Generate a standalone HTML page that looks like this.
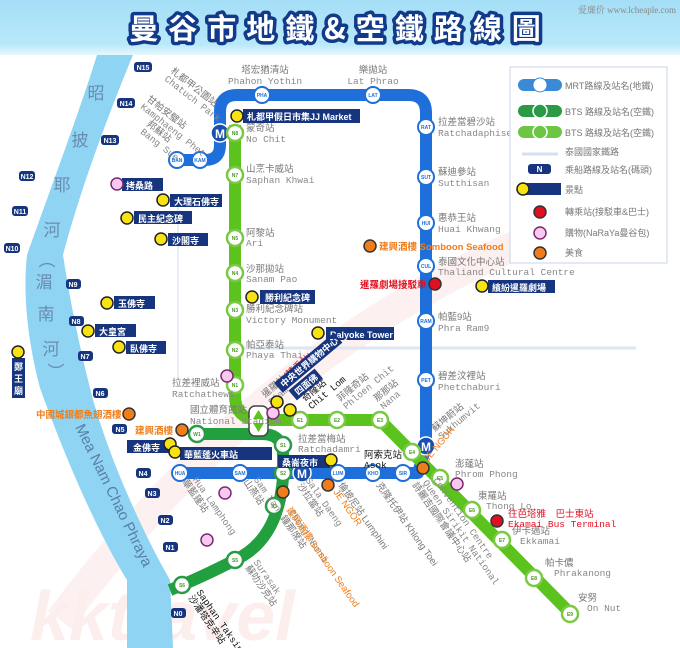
<!DOCTYPE html>
<html><head><meta charset="utf-8"><style>
html,body{margin:0;padding:0;background:#fff}
svg{display:block}
.zh{font-family:"Liberation Sans","Noto Sans CJK TC",sans-serif;font-size:9.5px;fill:#777}
.en{font-family:"Liberation Mono",monospace;font-size:9.5px;fill:#888}
.bx{fill:#17357f}
.bt{font-family:"Liberation Sans","Noto Sans CJK TC",sans-serif;font-size:9px;fill:#fff;font-weight:bold}
.pt{font-family:"Liberation Sans",sans-serif;font-size:7px;fill:#fff;font-weight:bold;text-anchor:middle}
.gs{fill:#fff;stroke:#7ac943;stroke-width:2.5}
.ds{fill:#fff;stroke:#2a9a45;stroke-width:2.5}
.ms{fill:#fff;stroke:#1e6fd9;stroke-width:2}
.sc{font-family:"Liberation Sans",sans-serif;font-size:5px;text-anchor:middle;font-weight:bold}
.y{fill:#f7e312;stroke:#222;stroke-width:1.5}
.o{fill:#f07d1a;stroke:#333;stroke-width:1.5}
.p{fill:#f8c8ee;stroke:#7a2a70;stroke-width:1.5}
.r{fill:#e01020;stroke:#333;stroke-width:1.5}
.lg{font-family:"Liberation Sans","Noto Sans CJK TC",sans-serif;font-size:9px;fill:#777}
</style></head><body>
<svg width="680" height="648" viewBox="0 0 680 648" xmlns="http://www.w3.org/2000/svg">
<defs><linearGradient id="tb" x1="0" y1="0" x2="0" y2="1"><stop offset="0" stop-color="#a4def6"/><stop offset="0.8" stop-color="#b8e8fa"/><stop offset="1" stop-color="#e6f7fd"/></linearGradient></defs>
<rect x="0" y="0" width="680" height="648" fill="#fff"/>
<rect x="0" y="0" width="680" height="55" fill="url(#tb)"/>
<path d="M60 620 Q300 300 640 200" stroke="#fdf0f0" stroke-width="30" fill="none"/>
<text x="30" y="640" font-family="Liberation Sans,sans-serif" font-size="70" font-style="italic" font-weight="bold" fill="#fdeeee">kktravel</text>
<text x="676" y="13" text-anchor="end" font-family="Liberation Serif,'Noto Serif CJK SC',serif" font-size="9" fill="#888">爱廉价 www.lcheaple.com</text>
<text x="340" y="39" text-anchor="middle" font-family="'Noto Sans CJK TC',sans-serif" font-weight="bold" font-size="29" fill="#fff" stroke="#123a8a" stroke-width="7" paint-order="stroke" stroke-linejoin="round" letter-spacing="10">曼谷市地鐵&amp;空鐵路線圖</text>
<path d="M240 348 H636" stroke="#dde6f2" stroke-width="3"/>
<path d="M178 200 V380" stroke="#e8eef6" stroke-width="2"/>
<path d="M97 55 C80 110 50 190 27 255 C22 300 30 350 40 388 C55 430 90 520 127 580 L127 648 L173 648 L170 580 C130 510 100 430 90 388 C78 340 70 300 63 255 C80 190 110 110 133 55 Z" fill="#8fd4f2"/>
<g font-family="'Noto Sans CJK TC',sans-serif" font-size="17" fill="#6a8cb0" text-anchor="middle">
<text x="96" y="99">昭</text><text x="80" y="146">披</text><text x="62" y="191">耶</text><text x="52" y="236">河</text>
<text x="47" y="266">︵</text><text x="44" y="288">湄</text><text x="46" y="320">南</text><text x="51" y="355">河</text><text x="56" y="378">︶</text>
</g>
<text transform="translate(75,427) rotate(64)" font-family="Liberation Sans,sans-serif" font-size="15" fill="#5a7ea8">Mea Nam Chao Phraya</text>
<g>
<rect x="134" y="62" width="18" height="10" rx="3" class="bx"/><text x="143" y="70" class="pt">N15</text>
<rect x="117" y="98" width="18" height="10" rx="3" class="bx"/><text x="126" y="106" class="pt">N14</text>
<rect x="101" y="135" width="18" height="10" rx="3" class="bx"/><text x="110" y="143" class="pt">N13</text>
<rect x="19" y="171" width="16" height="10" rx="3" class="bx"/><text x="27" y="179" class="pt">N12</text>
<rect x="12" y="206" width="16" height="10" rx="3" class="bx"/><text x="20" y="214" class="pt">N11</text>
<rect x="4" y="243" width="16" height="10" rx="3" class="bx"/><text x="12" y="251" class="pt">N10</text>
<rect x="66" y="279" width="15" height="10" rx="3" class="bx"/><text x="73" y="287" class="pt">N9</text>
<rect x="69" y="316" width="15" height="10" rx="3" class="bx"/><text x="76" y="324" class="pt">N8</text>
<rect x="78" y="351" width="15" height="10" rx="3" class="bx"/><text x="85" y="359" class="pt">N7</text>
<rect x="93" y="388" width="15" height="10" rx="3" class="bx"/><text x="100" y="396" class="pt">N6</text>
<rect x="112" y="424" width="15" height="10" rx="3" class="bx"/><text x="120" y="432" class="pt">N5</text>
<rect x="136" y="468" width="15" height="10" rx="3" class="bx"/><text x="143" y="476" class="pt">N4</text>
<rect x="145" y="488" width="15" height="10" rx="3" class="bx"/><text x="152" y="496" class="pt">N3</text>
<rect x="158" y="515" width="15" height="10" rx="3" class="bx"/><text x="165" y="523" class="pt">N2</text>
<rect x="163" y="542" width="15" height="10" rx="3" class="bx"/><text x="170" y="550" class="pt">N1</text>
<rect x="171" y="608" width="15" height="10" rx="3" class="bx"/><text x="178" y="616" class="pt">N0</text>
</g>
<path d="M177 160 H205 Q220 160 220 145 V112 Q220 95 237 95 H408 Q426 95 426 113 V446 L418 473 H177" stroke="#1e6fd9" stroke-width="12" fill="none" stroke-linejoin="round"/>
<path d="M235 125 V395 Q235 420 260 420 H380 L575 618" stroke="#5cc21e" stroke-width="12" fill="none" stroke-linejoin="round"/>
<path d="M190 434 H262 Q283 434 283 455 V478 Q278 540 235 560 Q200 578 170 590" stroke="#22a040" stroke-width="12" fill="none"/>
<rect x="249" y="406" width="19" height="30" rx="6" fill="#fff" stroke="#444" stroke-width="1.5"/>
<path d="M253 419 L258.5 410 L264 419 Z M253 423 L258.5 432 L264 423 Z" fill="#5cc21e"/>
<g>
<circle cx="177" cy="160" r="8" class="ms"/><text x="177" y="162" class="sc" fill="#1e6fd9">BAN</text>
<circle cx="200" cy="160" r="8" class="ms"/><text x="200" y="162" class="sc" fill="#1e6fd9">KAM</text>
<circle cx="262" cy="95" r="8" class="ms"/><text x="262" y="97" class="sc" fill="#1e6fd9">PHA</text>
<circle cx="373" cy="95" r="8" class="ms"/><text x="373" y="97" class="sc" fill="#1e6fd9">LAT</text>
<circle cx="426" cy="127" r="8" class="ms"/><text x="426" y="129" class="sc" fill="#1e6fd9">RAT</text>
<circle cx="426" cy="177" r="8" class="ms"/><text x="426" y="179" class="sc" fill="#1e6fd9">SUT</text>
<circle cx="426" cy="223" r="8" class="ms"/><text x="426" y="225" class="sc" fill="#1e6fd9">HUI</text>
<circle cx="426" cy="266" r="8" class="ms"/><text x="426" y="268" class="sc" fill="#1e6fd9">CUL</text>
<circle cx="426" cy="321" r="8" class="ms"/><text x="426" y="323" class="sc" fill="#1e6fd9">RAM</text>
<circle cx="426" cy="380" r="8" class="ms"/><text x="426" y="382" class="sc" fill="#1e6fd9">PET</text>
<circle cx="180" cy="473" r="8" class="ms"/><text x="180" y="475" class="sc" fill="#1e6fd9">HUA</text>
<circle cx="240" cy="473" r="8" class="ms"/><text x="240" y="475" class="sc" fill="#1e6fd9">SAM</text>
<circle cx="338" cy="473" r="8" class="ms"/><text x="338" y="475" class="sc" fill="#1e6fd9">LUM</text>
<circle cx="373" cy="473" r="8" class="ms"/><text x="373" y="475" class="sc" fill="#1e6fd9">KHO</text>
<circle cx="403" cy="473" r="8" class="ms"/><text x="403" y="475" class="sc" fill="#1e6fd9">SIR</text>
</g>
<g font-family="Liberation Sans,sans-serif" font-weight="bold" font-size="12" fill="#fff" text-anchor="middle">
<circle cx="220" cy="133" r="9" fill="#1a4fb0" stroke="#fff" stroke-width="1.5"/><text x="220" y="138">M</text>
<circle cx="302" cy="473" r="9" fill="#1a4fb0" stroke="#fff" stroke-width="1.5"/><text x="302" y="478">M</text>
<circle cx="426" cy="446" r="9" fill="#1a4fb0" stroke="#fff" stroke-width="1.5"/><text x="426" y="451">M</text>
</g>
<g>
<circle cx="235" cy="133" r="8" class="gs"/><circle cx="235" cy="175" r="8" class="gs"/><circle cx="235" cy="238" r="8" class="gs"/><circle cx="235" cy="273" r="8" class="gs"/><circle cx="235" cy="310" r="8" class="gs"/><circle cx="235" cy="350" r="8" class="gs"/><circle cx="235" cy="385" r="8" class="gs"/>
<circle cx="300" cy="420" r="8" class="gs"/><circle cx="337" cy="420" r="8" class="gs"/><circle cx="380" cy="420" r="8" class="gs"/><circle cx="412" cy="452" r="8" class="gs"/><circle cx="440" cy="478" r="8" class="gs"/><circle cx="472" cy="510" r="8" class="gs"/><circle cx="502" cy="540" r="8" class="gs"/><circle cx="534" cy="578" r="8" class="gs"/><circle cx="570" cy="614" r="8" class="gs"/>
<circle cx="197" cy="434" r="8" class="ds"/><circle cx="283" cy="445" r="8" class="ds"/><circle cx="283" cy="473" r="8" class="ds"/><circle cx="274" cy="506" r="8" class="ds"/><circle cx="235" cy="560" r="8" class="ds"/><circle cx="182" cy="585" r="8" class="ds"/>
</g>
<g class="sc" fill="#4a9a2a">
<text x="235" y="135">N8</text><text x="235" y="177">N7</text><text x="235" y="240">N5</text><text x="235" y="275">N4</text><text x="235" y="312">N3</text><text x="235" y="352">N2</text><text x="235" y="387">N1</text>
<text x="300" y="422">E1</text><text x="337" y="422">E2</text><text x="380" y="422">E3</text><text x="412" y="454">E4</text><text x="440" y="480">E5</text><text x="472" y="512">E6</text><text x="502" y="542">E7</text><text x="534" y="580">E8</text><text x="570" y="616">E9</text>
<text x="197" y="436">W1</text><text x="283" y="447">S1</text><text x="283" y="475">S2</text><text x="274" y="508">S3</text><text x="235" y="562">S5</text><text x="182" y="587">S6</text>
</g>
<text x="265" y="73" text-anchor="middle" class="zh">塔宏猶清站</text><text x="265" y="84" text-anchor="middle" class="en">Phahon Yothin</text>
<text x="373" y="73" text-anchor="middle" class="zh">樂拋站</text><text x="373" y="84" text-anchor="middle" class="en">Lat Phrao</text>
<g transform="translate(170,72) rotate(38)"><text class="zh">札都甲公園站</text><text y="10" class="en">Chatuch Park</text></g>
<g transform="translate(146,100) rotate(38)"><text class="zh">甘帕安璧站</text><text y="10" class="en">Kamphaeng Phet</text></g>
<g transform="translate(146,125) rotate(38)"><text class="zh">邦蘇站</text><text y="10" class="en">Bang Sue</text></g>
<text x="246" y="131" class="zh">蒙奇站</text><text x="246" y="142" class="en">No Chit</text>
<text x="246" y="172" class="zh">山烹卡威站</text><text x="246" y="183" class="en">Saphan Khwai</text>
<text x="246" y="236" class="zh">阿黎站</text><text x="246" y="246" class="en">Ari</text>
<text x="246" y="272" class="zh">沙那拋站</text><text x="246" y="282" class="en">Sanam Pao</text>
<text x="246" y="312" class="zh">勝利紀念碑站</text><text x="246" y="323" class="en">Victory Monument</text>
<text x="246" y="348" class="zh">帕亞泰站</text><text x="246" y="358" class="en">Phaya Thai</text>
<text x="172" y="386" class="zh">拉差裡威站</text><text x="172" y="397" class="en">Ratchathewi</text>
<text x="438" y="125" class="zh">拉差當碧沙站</text><text x="438" y="136" class="en">Ratchadaphisek</text>
<text x="438" y="175" class="zh">蘇迪參站</text><text x="438" y="186" class="en">Sutthisan</text>
<text x="438" y="221" class="zh">惠恭王站</text><text x="438" y="232" class="en">Huai Khwang</text>
<text x="438" y="265" class="zh">泰國文化中心站</text><text x="438" y="275" class="en">Thaliand Cultural Centre</text>
<text x="438" y="320" class="zh">帕藍9站</text><text x="438" y="331" class="en">Phra Ram9</text>
<text x="438" y="379" class="zh">碧差汶裡站</text><text x="438" y="390" class="en">Phetchaburi</text>
<text x="190" y="413" class="zh">國立體育館站</text><text x="190" y="424" class="en">National Stadium</text>
<text x="298" y="442" class="zh">拉差當梅站</text><text x="298" y="452" class="en">Ratchadamri</text>
<text x="364" y="458" class="zh" style="fill:#111">阿索克站</text><text x="364" y="468" class="en" style="fill:#111">Asok</text>
<text x="455" y="467" class="zh">澎蓬站</text><text x="455" y="477" class="en">Phrom Phong</text>
<text x="478" y="499" class="zh">東羅站</text><text x="486" y="509" class="en">Thong Lo</text>
<text x="512" y="534" class="zh">伊卡邁站</text><text x="520" y="544" class="en">Ekkamai</text>
<text x="545" y="566" class="zh">帕卡儂</text><text x="554" y="576" class="en">Phrakanong</text>
<text x="578" y="601" class="zh">安努</text><text x="587" y="611" class="en">On Nut</text>
<text x="508" y="517" class="zh" style="fill:#e01020">往芭塔雅　巴士東站</text><text x="508" y="527" class="en" style="fill:#e01020">Ekamai Bus Terminal</text>
<g transform="translate(265,398) rotate(-40)"><text class="zh">暹羅站<tspan style="fill:#e01020">(轉乘站)</tspan></text><text y="10" class="en">Siam</text></g>
<g transform="translate(305,402) rotate(-40)"><text class="zh" style="fill:#111">奇隆站</text><text y="10" class="en" style="fill:#111">Chit Lom</text></g>
<g transform="translate(340,402) rotate(-40)"><text class="zh">菲隆奇站</text><text y="10" class="en">Phloen Chit</text></g>
<g transform="translate(377,402) rotate(-40)"><text class="zh">那那站</text><text y="10" class="en">Nana</text></g>
<g transform="translate(435,432) rotate(-40)"><text class="zh">蘇坤蔚站</text><text y="10" class="en">Sukhumvit</text></g>
<g transform="translate(182,482) rotate(55)"><text class="zh">華藍蓬站</text><text y="-10" x="4" class="en">Hua Lamphong</text></g>
<g transform="translate(243,482) rotate(55)"><text class="zh">山燕站</text><text y="-10" x="4" class="en">Sam Yan</text></g>
<g transform="translate(297,486) rotate(55)"><text class="zh">沙拉當站</text><text y="-10" class="en">Sala Daeng</text></g>
<g transform="translate(338,485) rotate(55)"><text class="zh">倫披尼站 Lumphini</text></g>
<g transform="translate(376,485) rotate(55)"><text class="zh">克隆托伊站 Khlong Toei</text></g>
<g transform="translate(412,485) rotate(55)"><text class="zh">詩麗吉國際會議中心站</text><text y="-10" x="4" class="en">Queen Sirikit National</text><text y="-20" x="8" class="en">Convention Centre</text></g>
<g transform="translate(280,518) rotate(55)"><text class="zh">鐘那席站</text><text y="-10" class="en">Chong Nonsi</text></g>
<g transform="translate(245,568) rotate(55)"><text class="zh">蘇叻沙克站</text><text y="-10" class="en">Surasak</text></g>
<g transform="translate(188,598) rotate(55)"><text class="zh" style="fill:#111">沙潘塔克辛站</text><text y="-10" class="en" style="fill:#111">Saphan Taksin</text></g>
<g transform="translate(333,492) rotate(55)"><text class="zh" style="fill:#f07d1a">JE NGOR</text></g>
<g transform="translate(286,510) rotate(55)"><text class="zh" style="fill:#f07d1a">建興酒樓 Somboon Seafood</text></g>
<g transform="translate(428,462) rotate(-50)"><text class="zh" style="fill:#f07d1a">JE NGOR</text></g>
<rect x="243" y="109" width="117" height="14" class="bx"/><text x="247" y="120" class="bt">札都甲假日市集JJ Market</text><circle cx="237" cy="116" r="6" class="y"/>
<rect x="122" y="178" width="41" height="13" class="bx"/><text x="126" y="189" class="bt">拷桑路</text><circle cx="117" cy="184" r="6" class="p"/>
<rect x="170" y="194" width="52" height="13" class="bx"/><text x="174" y="205" class="bt">大理石佛寺</text><circle cx="163" cy="200" r="6" class="y"/>
<rect x="134" y="211" width="58" height="13" class="bx"/><text x="138" y="222" class="bt">民主紀念碑</text><circle cx="127" cy="218" r="6" class="y"/>
<rect x="168" y="233" width="40" height="13" class="bx"/><text x="172" y="244" class="bt">沙閣寺</text><circle cx="161" cy="239" r="6" class="y"/>
<rect x="114" y="296" width="41" height="13" class="bx"/><text x="118" y="307" class="bt">玉佛寺</text><circle cx="107" cy="303" r="6" class="y"/>
<rect x="95" y="324" width="41" height="13" class="bx"/><text x="99" y="335" class="bt">大皇宮</text><circle cx="88" cy="331" r="6" class="y"/>
<rect x="126" y="341" width="40" height="13" class="bx"/><text x="130" y="352" class="bt">臥佛寺</text><circle cx="119" cy="347" r="6" class="y"/>
<rect x="12" y="358" width="13" height="40" class="bx"/><text x="18.5" y="370" class="bt" text-anchor="middle">鄭</text><text x="18.5" y="382" class="bt" text-anchor="middle">王</text><text x="18.5" y="394" class="bt" text-anchor="middle">廟</text><circle cx="18" cy="352" r="6" class="y"/>
<rect x="260" y="290" width="55" height="14" class="bx"/><text x="265" y="301" class="bt">勝利紀念碑</text><circle cx="252" cy="297" r="6" class="y"/>
<rect x="326" y="327" width="68" height="13" class="bx"/><text x="330" y="338" class="bt">Balyoke Tower</text><circle cx="318" cy="333" r="6" class="y"/>
<circle cx="370" cy="246" r="6" class="o"/><text x="379" y="250" class="zh" style="fill:#f07d1a;font-weight:bold">建興酒樓 Somboon Seafood</text>
<text x="360" y="288" class="zh" style="fill:#e01020;font-weight:bold">暹羅劇場接駁車</text><circle cx="435" cy="284" r="6" class="r"/>
<rect x="488" y="280" width="67" height="13" class="bx"/><text x="492" y="291" class="bt">繽紛暹羅劇場</text><circle cx="482" cy="286" r="6" class="y"/>
<g transform="translate(282,392) rotate(-40)"><rect x="0" y="-12" width="78" height="13" class="bx"/><text x="4" y="-2" class="bt">中央世界購物中心</text><rect x="6" y="3" width="34" height="13" class="bx"/><text x="10" y="13" class="bt">四面佛</text></g>
<circle cx="273" cy="413" r="6" class="p"/><circle cx="277" cy="402" r="6" class="y"/><circle cx="290" cy="410" r="6" class="y"/>
<rect x="278" y="455" width="52" height="13" class="bx"/><text x="282" y="466" class="bt">桑崙夜市</text><circle cx="331" cy="460" r="6" class="y"/>
<rect x="127" y="440" width="42" height="13" class="bx"/><text x="133" y="451" class="bt">金佛寺</text>
<rect x="180" y="447" width="92" height="13" class="bx"/><text x="184" y="458" class="bt">華藍蓬火車站</text>
<circle cx="170" cy="444" r="6" class="y"/><circle cx="175" cy="452" r="6" class="y"/>
<text x="36" y="418" class="zh" style="fill:#f07d1a;font-weight:bold">中國城銀都魚翅酒樓</text><circle cx="129" cy="414" r="6" class="o"/>
<text x="135" y="434" class="zh" style="fill:#f07d1a;font-weight:bold">建興酒樓</text><circle cx="182" cy="430" r="6" class="o"/>
<circle cx="227" cy="376" r="6" class="p"/><circle cx="225" cy="493" r="6" class="p"/><circle cx="207" cy="540" r="6" class="p"/><circle cx="457" cy="484" r="6" class="p"/>
<circle cx="283" cy="492" r="6" class="o"/><circle cx="328" cy="485" r="6" class="o"/><circle cx="423" cy="468" r="6" class="o"/>
<circle cx="497" cy="521" r="6" class="r"/>
<rect x="510" y="67" width="157" height="196" fill="#fff" stroke="#c8d4e4" stroke-width="1"/>
<rect x="518" y="79" width="44" height="12" rx="6" fill="#3a8ad8"/><circle cx="540" cy="85" r="7" fill="#fff" stroke="#3a8ad8" stroke-width="1"/><text x="565" y="89" class="lg">MRT路線及站名(地鐵)</text>
<rect x="518" y="105" width="44" height="12" rx="6" fill="#2a9a45"/><circle cx="540" cy="111" r="7" fill="#2a9a45" stroke="#fff" stroke-width="1.5"/><text x="565" y="115" class="lg">BTS 路線及站名(空鐵)</text>
<rect x="518" y="126" width="44" height="12" rx="6" fill="#6cc644"/><circle cx="540" cy="132" r="7" fill="#6cc644" stroke="#fff" stroke-width="1.5"/><text x="565" y="136" class="lg">BTS 路線及站名(空鐵)</text>
<path d="M522 154 H558" stroke="#d4dff0" stroke-width="3"/><text x="565" y="155" class="lg">泰國國家鐵路</text>
<rect x="528" y="164" width="23" height="10" rx="3" class="bx"/><text x="539.5" y="172" class="pt" style="font-size:8px">N</text><text x="565" y="173" class="lg">乘船路線及站名(碼頭)</text>
<rect x="525" y="183" width="36" height="12" class="bx"/><circle cx="523" cy="189" r="6" class="y"/><text x="565" y="193" class="lg">景點</text>
<circle cx="540" cy="212" r="6" class="r"/><text x="565" y="215" class="lg">轉乘站(接駁車&amp;巴士)</text>
<circle cx="540" cy="233" r="6" class="p"/><text x="565" y="236" class="lg">購物(NaRaYa曼谷包)</text>
<circle cx="540" cy="253" r="6" class="o"/><text x="565" y="256" class="lg">美食</text>
</svg>
</body></html>
